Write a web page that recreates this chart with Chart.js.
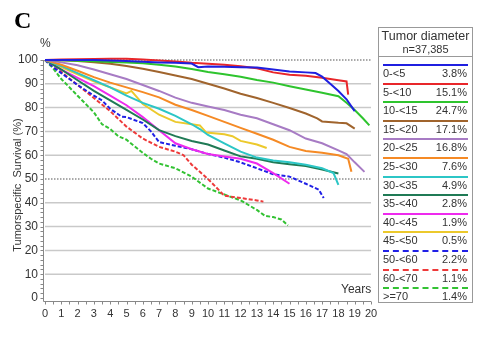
<!DOCTYPE html>
<html>
<head>
<meta charset="utf-8">
<script src="https://cdn.jsdelivr.net/npm/chart.js@4"></script>
<style>
  body { margin: 0; background: #fff; font-family: Arial, "Liberation Sans", sans-serif; }
  #wrap { position: relative; width: 486px; height: 339px; }
  #chart { position: absolute; left: 0; top: 0; }
  .txt { position: absolute; color: #333; white-space: nowrap; }
  #panel { left: 14px; top: 7px; font: bold 24px "Liberation Serif", "Times New Roman", serif; color: #000; }
  #pct { left: 40px; top: 36px; font-size: 12px; }
  #ytitle { left: 17px; top: 185px; font-size: 11px; transform: translate(-50%, -50%) rotate(-90deg); }
  #years { left: 341px; top: 282px; font-size: 12px; }
  #legend { position: absolute; left: 378px; top: 27px; width: 95px; height: 276px; border: 1px solid #999; box-sizing: border-box; }
  #legend .hd1 { position: absolute; left: 0; width: 100%; top: 1px; text-align: center; font-size: 12.5px; color: #333; }
  #legend .hd2 { position: absolute; left: 0; width: 100%; top: 15px; text-align: center; font-size: 11px; color: #333; }
  #legend .sep { position: absolute; left: 0; width: 100%; top: 28px; border-top: 1px solid #999; }
  #legend .ln { position: absolute; left: 4px; width: 85px; height: 0; }
  #legend .lb { position: absolute; left: 4px; font-size: 11px; color: #333; }
  #legend .pc { position: absolute; right: 5px; font-size: 11px; color: #333; }
</style>
</head>
<body>
<div id="wrap">
  <canvas id="chart" width="486" height="339"></canvas>
  <div class="txt" id="panel">C</div>
  <div class="txt" id="pct">%</div>
  <div class="txt" id="ytitle">Tumorspecific&nbsp;&nbsp;Survival (%)</div>
  <div class="txt" id="years">Years</div>
  <div id="legend">
    <div class="hd1">Tumor diameter</div>
    <div class="hd2">n=37,385</div>
    <div class="sep"></div>
  </div>
</div>
<script>
// survival curves per tumor diameter group: [years, % surviving]
const d0_5 = [[0,100],[1,100],[2,100],[3,100],[4,99.8],[5,99.6],[6,99.3],[7,99],[8,98.8],[9,98.5],[9.4,97],[10,97.3],[11,97.2],[12,97],[13,96.8],[14,96],[15,95.2],[16,94.8],[16.6,94.5],[17,93],[17.5,90],[18,87],[18.5,83.5],[19,78.5]];
const d5_10 = [[0,100],[1,100.2],[2,100.3],[3,100.4],[4,100.5],[5,100.5],[6,100.2],[7,99.8],[8,99.4],[9,98.8],[10,98.4],[11,98],[12,97.4],[13,96.5],[14,94.8],[15,93.8],[16,93.4],[17,92.5],[18,91.5],[18.5,91],[18.6,85.5]];
const d10_15 = [[0,100],[1,99.9],[2,99.7],[3,99.5],[4,99.2],[5,98.9],[6,98.6],[7,98],[8,97.3],[9,96.2],[10,95],[11,94],[12,93],[13,91.6],[14,90.5],[15,89],[16,87.6],[17,86.2],[18,84.8],[18.5,82],[19,79],[19.5,75.5],[19.9,72.5]];
const d15_20 = [[0,100],[1,99.9],[2,99.6],[3,99.1],[4,98.4],[5,97.5],[6,96.3],[7,95],[8,93.5],[9,92],[10,90],[11,88],[12,85.8],[13,84],[14,82],[15,79.8],[16,77.5],[16.7,75.5],[17,74.2],[18,73.6],[18.5,73.4],[19,71.2]];
const d20_25 = [[0,100],[1,99],[2,97.8],[3,96],[4,94],[5,92],[6,89.5],[7,87],[8,84.2],[9,82],[10,80.5],[11,79],[12,77],[13,75.5],[14,73],[15,70.5],[16,67],[17,65],[18,62],[18.5,60.5],[19,57],[19.6,53]];
const d25_30 = [[0,100],[1,98],[2,95.5],[3,92.8],[4,90.5],[5,88.5],[6,86.5],[7,84.3],[8,81.2],[9,79],[10,76.5],[11,74],[12,71.5],[13,69],[14,66.5],[15,63.5],[16,61.8],[17,61],[18,60],[18.6,58.5],[18.8,53]];
const d30_35 = [[0,100],[1,97.5],[2,94.5],[3,91.5],[4,88.5],[5,85],[6,82],[7,79.5],[8,76.5],[9,73],[9.5,71],[10,68.5],[11,65],[12,61.5],[13,59],[14,57.8],[15,57],[16,56],[17,54.5],[17.7,52.5],[18,47.5]];
const d35_40 = [[0,100],[1,96],[2,91.5],[3,87],[4,83],[5,79],[6,75],[7,70.5],[8,68],[9,66],[10,64.5],[11,62],[12,59.5],[13,58.5],[14,57],[15,56.2],[16,55.5],[17,54],[18,52.3]];
const d40_45 = [[0,100],[1,96],[2,92.5],[3,89],[4,85],[5,81],[6,76],[7,70.5],[8,65],[9,62.5],[10,60.5],[11,59.5],[12,58.5],[13,56.5],[14,52.5],[15,48]];
const d45_50 = [[0,100],[1,97],[2,94],[3,91],[4,88.5],[5,86],[5.3,87],[6,81.5],[7,77],[8,74],[9,73],[9.5,72.5],[9.9,69.5],[11,68.8],[11.5,68],[12,66],[13,64.5],[13.6,63]];
const d50_60 = [[0,100],[0.5,97],[1,94.5],[2,89.5],[3,85],[3.5,83],[4,79.5],[4.7,76.2],[5,76],[6,73.5],[6.5,70],[7,65.5],[8,64],[9,62.5],[10,60.5],[11,59],[12,57],[13,54.5],[14,52],[15,51],[16,48],[16.8,45.5],[17.1,42]];
const d60_70 = [[0,100],[0.5,98],[1,95],[2,89.5],[3,84],[4,78.5],[5,72],[6,67],[7,63.5],[8,61.5],[8.5,60],[9,56],[9.5,53],[10,50],[10.5,46.5],[11,43],[12,42],[13,41],[13.4,40.5]];
const d70up = [[0,100],[0.5,96.5],[1,92],[2,85],[3,78],[3.5,73],[4,71],[4.5,68],[5,66.5],[6,61],[6.5,58.5],[7,56.5],[8,54.5],[9,51],[10,46],[11,43.5],[12,41],[13,37],[13.5,34.5],[14,34],[14.5,33],[14.9,30.5]];

const groups = ['0-<5','5-<10','10-<15','15-<20','20-<25','25-<30','30-<35','35-<40','40-<45','45-<50','50-<60','60-<70','>=70'];
const shares = ['3.8%','15.1%','24.7%','17.1%','16.8%','7.6%','4.9%','2.8%','1.9%','0.5%','2.2%','1.1%','1.4%'];
const curves = [d0_5, d5_10, d10_15, d15_20, d20_25, d25_30, d30_35, d35_40, d40_45, d45_50, d50_60, d60_70, d70up];
const yearTicks = [0,1,2,3,4,5,6,7,8,9,10,11,12,13,14,15,16,17,18,19,20];
const pctTicks = [0,10,20,30,40,50,60,70,80,90,100];

const colors = ['#1f1fe0','#e8262a','#2ec42e','#a0642d','#a77bc4','#f58a25','#2cc6c6','#1f7a55','#ee2aee','#ecc92c','#2020e6','#ee3a3a','#33c233'];
const dashed = [false,false,false,false,false,false,false,false,false,false,true,true,true];

// grid lines, axis lines and minor ticks
const gridPlugin = {
  id: 'grid',
  beforeDatasetsDraw(chart) {
    const { ctx, chartArea: a, scales: { x, y } } = chart;
    ctx.save();
    pctTicks.forEach(v => {
      if (v === 0) return;
      const py = y.getPixelForValue(v);
      ctx.beginPath();
      if (v === 50 || v === 100) {
        ctx.strokeStyle = '#555';
        ctx.lineWidth = 1.2;
        ctx.setLineDash([1.5, 1.5]);
      } else {
        ctx.strokeStyle = '#c9c9c9';
        ctx.lineWidth = 1.5;
        ctx.setLineDash([]);
      }
      ctx.moveTo(a.left, py);
      ctx.lineTo(a.right, py);
      ctx.stroke();
    });
    ctx.setLineDash([]);
    ctx.strokeStyle = '#888';
    ctx.lineWidth = 1;
    const ax = a.left - 1.5, ay = a.bottom + 3.5;
    ctx.beginPath();
    ctx.moveTo(ax, a.top);
    ctx.lineTo(ax, ay);
    ctx.lineTo(a.right, ay);
    for (let v = 0; v <= 100; v += 2) {
      const py = Math.round(y.getPixelForValue(v)) + 0.5;
      ctx.moveTo(ax, py);
      ctx.lineTo(ax - 3, py);
    }
    for (let t = 0; t <= 20; t += 0.5) {
      const px = Math.round(x.getPixelForValue(t)) + 0.5;
      ctx.moveTo(px, ay);
      ctx.lineTo(px, ay + 3);
    }
    ctx.stroke();
    ctx.restore();
  }
};

new Chart(document.getElementById('chart'), {
  type: 'line',
  data: {
    datasets: curves.map((c, i) => ({
      label: groups[i],
      data: c.map(p => ({ x: p[0], y: p[1] })),
      borderColor: colors[i],
      borderWidth: 2,
      borderDash: dashed[i] ? [4, 2] : [],
      pointRadius: 0,
      tension: 0,
      fill: false,
      clip: 4
    }))
  },
  options: {
    responsive: false,
    animation: false,
    layout: { padding: { left: 0, top: 60, right: 115, bottom: 0 } },
    plugins: { legend: { display: false }, tooltip: { enabled: false } },
    scales: {
      x: {
        type: 'linear',
        min: 0,
        max: 20,
        afterBuildTicks: s => { s.ticks = yearTicks.map(v => ({ value: v })); },
        afterFit: s => { s.height = 41; },
        grid: { display: false, drawTicks: false, tickLength: 0 },
        border: { display: false },
        ticks: { padding: 9, color: '#333', font: { family: 'Arial, "Liberation Sans"', size: 11 }, maxRotation: 0 }
      },
      y: {
        min: 0,
        max: 100,
        afterBuildTicks: s => { s.ticks = pctTicks.map(v => ({ value: v })); },
        afterFit: s => { s.width = 45; },
        grid: { display: false, drawTicks: false, tickLength: 0 },
        border: { display: false },
        ticks: { padding: 7, color: '#333', font: { family: 'Arial, "Liberation Sans"', size: 12 } }
      }
    }
  },
  plugins: [gridPlugin]
});

// legend table beside the plot
const legend = document.getElementById('legend');
groups.forEach((g, i) => {
  const top = 37 + i * 18.6;
  const ln = document.createElement('div');
  ln.className = 'ln';
  ln.style.top = (top - 1) + 'px';
  ln.style.borderTop = '2.5px ' + (dashed[i] ? 'dashed ' : 'solid ') + colors[i];
  legend.appendChild(ln);
  const lb = document.createElement('div');
  lb.className = 'lb';
  lb.style.top = (top + 2) + 'px';
  lb.textContent = g;
  legend.appendChild(lb);
  const pc = document.createElement('div');
  pc.className = 'pc';
  pc.style.top = (top + 2) + 'px';
  pc.textContent = shares[i];
  legend.appendChild(pc);
});
</script>
</body>
</html>
